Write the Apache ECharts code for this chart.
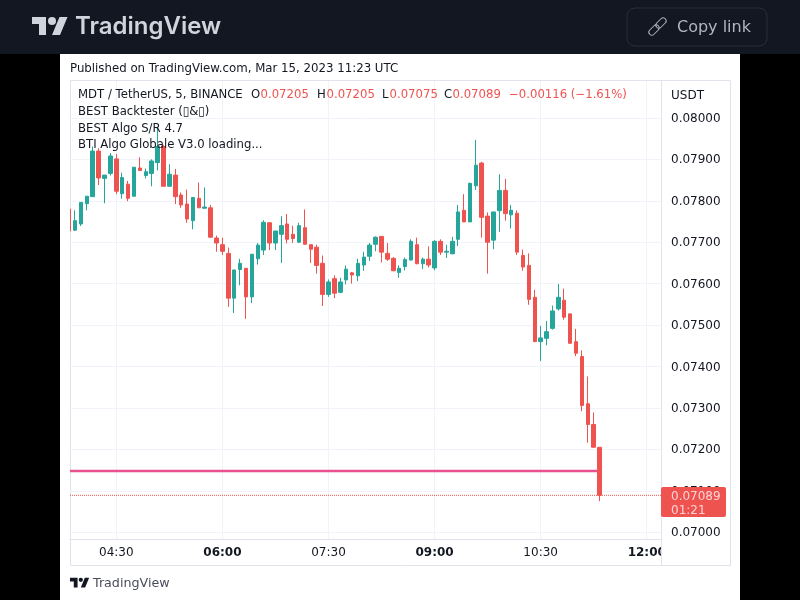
<!DOCTYPE html>
<html>
<head>
<meta charset="utf-8">
<title>MDT / TetherUS</title>
<script src="https://cdn.jsdelivr.net/npm/echarts@6/dist/echarts.min.js"></script>
<style>
html, body { margin: 0; padding: 0; background: #000; }
#main { width: 800px; height: 600px; }
</style>
</head>
<body>
<div id="main"></div>
<script>
var times = ['03:50','03:55','04:00','04:05','04:10','04:15','04:20','04:25','04:30','04:35','04:40','04:45','04:50','04:55','05:00','05:05','05:10','05:15','05:20','05:25','05:30','05:35','05:40','05:45','05:50','05:55','06:00','06:05','06:10','06:15','06:20','06:25','06:30','06:35','06:40','06:45','06:50','06:55','07:00','07:05','07:10','07:15','07:20','07:25','07:30','07:35','07:40','07:45','07:50','07:55','08:00','08:05','08:10','08:15','08:20','08:25','08:30','08:35','08:40','08:45','08:50','08:55','09:00','09:05','09:10','09:15','09:20','09:25','09:30','09:35','09:40','09:45','09:50','09:55','10:00','10:05','10:10','10:15','10:20','10:25','10:30','10:35','10:40','10:45','10:50','10:55','11:00','11:05','11:10','11:15','11:20'];
var opens = [0.07780,0.07729,0.07744,0.07793,0.07810,0.07920,0.07854,0.07866,0.07901,0.07817,0.07840,0.07811,0.07879,0.07861,0.07866,0.07892,0.07931,0.07835,0.07862,0.07814,0.07792,0.07752,0.07806,0.07782,0.07783,0.07710,0.07694,0.07673,0.07565,0.07634,0.07637,0.07568,0.07660,0.07681,0.07747,0.07698,0.07719,0.07744,0.07719,0.07700,0.07735,0.07694,0.07688,0.07649,0.07574,0.07612,0.07579,0.07609,0.07626,0.07619,0.07645,0.07666,0.07695,0.07714,0.07673,0.07661,0.07627,0.07641,0.07657,0.07694,0.07648,0.07659,0.07638,0.07702,0.07676,0.07672,0.07707,0.07777,0.07749,0.07836,0.07891,0.07763,0.07705,0.07776,0.07825,0.07766,0.07770,0.07668,0.07644,0.07567,0.07460,0.07468,0.07492,0.07539,0.07560,0.07527,0.07460,0.07424,0.07310,0.07260,0.07205];
var highs = [0.07780,0.07777,0.07796,0.07811,0.07931,0.07927,0.07862,0.07915,0.07913,0.07868,0.07848,0.07881,0.07905,0.07878,0.07900,0.07978,0.07935,0.07888,0.07877,0.07820,0.07827,0.07808,0.07844,0.07832,0.07790,0.07716,0.07711,0.07687,0.07633,0.07660,0.07637,0.07671,0.07698,0.07753,0.07747,0.07727,0.07763,0.07768,0.07740,0.07747,0.07779,0.07694,0.07694,0.07668,0.07610,0.07620,0.07614,0.07644,0.07628,0.07660,0.07677,0.07698,0.07714,0.07715,0.07698,0.07664,0.07644,0.07663,0.07707,0.07711,0.07663,0.07690,0.07705,0.07707,0.07694,0.07713,0.07790,0.07816,0.07844,0.07947,0.07894,0.07772,0.07773,0.07864,0.07853,0.07790,0.07777,0.07682,0.07673,0.07585,0.07498,0.07510,0.07547,0.07599,0.07588,0.07527,0.07491,0.07439,0.07376,0.07289,0.07205];
var lows = [0.07727,0.07727,0.07739,0.07777,0.07810,0.07838,0.07794,0.07861,0.07816,0.07805,0.07799,0.07810,0.07873,0.07854,0.07835,0.07873,0.07835,0.07835,0.07792,0.07783,0.07747,0.07731,0.07783,0.07781,0.07711,0.07677,0.07669,0.07544,0.07529,0.07596,0.07515,0.07553,0.07646,0.07669,0.07681,0.07681,0.07650,0.07697,0.07698,0.07698,0.07695,0.07650,0.07624,0.07546,0.07568,0.07565,0.07577,0.07598,0.07600,0.07606,0.07631,0.07655,0.07678,0.07651,0.07655,0.07630,0.07614,0.07632,0.07656,0.07647,0.07635,0.07639,0.07632,0.07669,0.07662,0.07671,0.07691,0.07749,0.07749,0.07826,0.07711,0.07624,0.07683,0.07725,0.07752,0.07733,0.07669,0.07631,0.07549,0.07460,0.07413,0.07451,0.07489,0.07535,0.07513,0.07456,0.07425,0.07292,0.07216,0.07205,0.07075];
var closes = [0.07727,0.07752,0.07796,0.07811,0.07920,0.07855,0.07862,0.07908,0.07823,0.07856,0.07806,0.07881,0.07873,0.07870,0.07896,0.07931,0.07835,0.07864,0.07810,0.07790,0.07756,0.07808,0.07783,0.07785,0.07712,0.07698,0.07678,0.07565,0.07633,0.07649,0.07568,0.07671,0.07693,0.07748,0.07698,0.07727,0.07740,0.07707,0.07709,0.07740,0.07695,0.07683,0.07644,0.07574,0.07604,0.07577,0.07604,0.07635,0.07621,0.07649,0.07664,0.07693,0.07712,0.07676,0.07659,0.07631,0.07637,0.07658,0.07702,0.07648,0.07659,0.07645,0.07702,0.07676,0.07678,0.07702,0.07773,0.07749,0.07842,0.07886,0.07760,0.07700,0.07773,0.07825,0.07769,0.07777,0.07676,0.07640,0.07562,0.07460,0.07469,0.07484,0.07534,0.07567,0.07519,0.07456,0.07432,0.07306,0.07260,0.07205,0.07089];
var supportLine = [[230, 0.07148], [680, 0.07148]];
var yTicks = [0.07000,0.07100,0.07200,0.07300,0.07400,0.07500,0.07600,0.07700,0.07800,0.07900,0.08000];
var xTicks = ['04:30','06:00','07:30','09:00','10:30','12:00'];
var boldTicks = ['06:00','09:00','12:00'];

var font = 'DejaVu Sans';
var textColor = '#131722';
var upColor = '#26a69a';
var downColor = '#ef5350';
var gridColor = '#f0f3fa';
var borderColor = '#e0e3eb';
var xMin = 230.7, xMax = 732.1;

function toMinutes(t) {
    var p = t.split(':');
    return Number(p[0]) * 60 + Number(p[1]);
}
function minutesToLabel(m) {
    var h = Math.floor(m / 60), n = m % 60;
    return (h < 10 ? '0' : '') + h + ':' + (n < 10 ? '0' : '') + n;
}

var candleData = times.map(function (t, i) {
    return [toMinutes(t), opens[i], closes[i], lows[i], highs[i]];
});
var xTickValues = xTicks.map(toMinutes);
var last = times.length - 1;
var lastPriceLine = [[xMin, closes[last]], [xMax, closes[last]]];

function txt(x, y, text, color, size, z, extra) {
    var style = { x: x, y: y, text: text, fill: color, font: (size || 12) + 'px "' + font + '"', align: 'left', verticalAlign: 'middle' };
    for (var k in (extra || {})) style[k] = extra[k];
    return { type: 'text', silent: true, z: z || 100, style: style };
}

// the TradingView mark, as three shapes
function logo(x, y, s, color) {
    function pts(list) {
        return list.map(function (p) { return [x + p[0] * s, y + p[1] * s]; });
    }
    return [
        { type: 'polygon', z: 100, silent: true, shape: { points: pts([[14, 22], [7, 22], [7, 11], [0, 11], [0, 4], [14, 4]]) }, style: { fill: color } },
        { type: 'polygon', z: 100, silent: true, shape: { points: pts([[28, 22], [20, 22], [27.5, 4], [35.5, 4]]) }, style: { fill: color } },
        { type: 'circle', z: 100, silent: true, shape: { cx: x + 20 * s, cy: y + 8 * s, r: 4 * s }, style: { fill: color } }
    ];
}

var graphics = [
    // page pieces
    { type: 'rect', z: -10, silent: true, shape: { x: 0, y: 0, width: 800, height: 54 }, style: { fill: '#131722' } },
    { type: 'rect', z: -10, silent: true, shape: { x: 60, y: 54, width: 680, height: 546 }, style: { fill: '#ffffff' } },
    { type: 'rect', z: -9, silent: true, shape: { x: 70.5, y: 80.5, width: 660, height: 485 }, style: { fill: '#ffffff', stroke: borderColor, lineWidth: 1 } },
    // first candle is cut by the pane edge
    { type: 'rect', z: 50, silent: true, shape: { x: 62, y: 100, width: 8, height: 430 }, style: { fill: '#ffffff' } },
    // header
    txt(75, 27, 'TradingView', '#d1d4dc', 24, 100, { font: '600 24px Inter' }),
    { type: 'rect', z: 100, silent: true, shape: { x: 627, y: 8, width: 140, height: 38, r: 8 }, style: { fill: 'transparent', stroke: '#2a2e39', lineWidth: 1 } },
    { type: 'rect', z: 100, silent: true, x: 661, y: 23, rotation: Math.PI / 4, originX: 0, originY: 0, shape: { x: -6, y: -3, width: 12, height: 6, r: 3 }, style: { fill: 'transparent', stroke: '#b2b5be', lineWidth: 1 } },
    { type: 'rect', z: 100, silent: true, x: 654, y: 30, rotation: Math.PI / 4, originX: 0, originY: 0, shape: { x: -6, y: -3, width: 12, height: 6, r: 3 }, style: { fill: 'transparent', stroke: '#b2b5be', lineWidth: 1 } },
    txt(677, 28, 'Copy link', '#b2b5be', 16),
    // top line and study titles
    txt(70, 69, 'Published on TradingView.com, Mar 15, 2023 11:23 UTC', textColor, 11.78),
    txt(78, 95.2, 'MDT / TetherUS, 5, BINANCE', textColor, 11.7),
    txt(251, 95.2, 'O', textColor, 11.7),
    txt(260.5, 95.2, opens[last].toFixed(5), downColor, 11.7),
    txt(317, 95.2, 'H', textColor, 11.7),
    txt(326.5, 95.2, highs[last].toFixed(5), downColor, 11.7),
    txt(382, 95.2, 'L', textColor, 11.7),
    txt(389.5, 95.2, lows[last].toFixed(5), downColor, 11.7),
    txt(444, 95.2, 'C', textColor, 11.7),
    txt(452.5, 95.2, closes[last].toFixed(5), downColor, 11.7),
    txt(509, 95.2, '\u22120.00116 (\u22121.61%)', downColor, 11.7),
    txt(78, 112.2, 'BEST Backtester (\u25AF&\u25AF)', textColor, 11.7),
    txt(78, 129.2, 'BEST Algo S/R 4.7', textColor, 11.7),
    txt(78, 145.2, 'BTI Algo Globale V3.0 loading...', textColor, 11.7),
    // corner below the price scale hides the cut 12:00 label
    { type: 'rect', z: 50, silent: true, shape: { x: 662, y: 540, width: 68, height: 25 }, style: { fill: '#ffffff' } },
    { type: 'line', z: 51, silent: true, shape: { x1: 661.5, y1: 81, x2: 661.5, y2: 565 }, style: { stroke: borderColor, lineWidth: 1 } },
    // price scale
    txt(671, 95.5, 'USDT', textColor, 12),
    { type: 'rect', z: 60, silent: true, shape: { x: 661, y: 487, width: 65, height: 30, r: 2 }, style: { fill: downColor } },
    txt(671, 496.5, closes[last].toFixed(5), 'rgba(255,255,255,0.75)', 12, 61),
    txt(671, 510.5, '01:21', 'rgba(255,255,255,0.75)', 12, 61),
    // footer
    txt(93, 584, 'TradingView', '#4a4e5b', 12.7)
].concat(logo(32, 13, 1, '#d1d4dc'), logo(70, 575.5, 0.54, '#131722'));

var chart = echarts.init(document.getElementById('main'));
chart.setOption({
    animation: false,
    backgroundColor: '#000000',
    textStyle: { fontFamily: font },
    grid: { left: 70, top: 81, right: 139, bottom: 61 },
    xAxis: {
        type: 'value',
        min: xMin,
        max: xMax,
        axisLine: { lineStyle: { color: borderColor } },
        axisTick: { show: false, customValues: xTickValues },
        splitLine: { show: true, customValues: xTickValues, lineStyle: { color: gridColor, width: 1 } },
        axisLabel: {
            customValues: xTickValues,
            margin: 8,
            color: textColor,
            fontSize: 12,
            fontFamily: font,
            hideOverlap: false,
            formatter: function (v) {
                var s = minutesToLabel(v);
                return boldTicks.indexOf(s) >= 0 ? '{b|' + s + '}' : s;
            },
            rich: { b: { fontWeight: 'bold', fontSize: 12, color: textColor, fontFamily: font } }
        }
    },
    yAxis: {
        type: 'value',
        position: 'right',
        min: 0.069836,
        max: 0.080891,
        axisLine: { show: false },
        axisTick: { show: false, customValues: yTicks },
        splitLine: { show: true, customValues: yTicks, lineStyle: { color: gridColor, width: 1 } },
        axisLabel: {
            customValues: yTicks,
            margin: 10,
            color: textColor,
            fontSize: 12,
            fontFamily: font,
            align: 'left',
            formatter: function (v) { return '{v|' + v.toFixed(5) + '}'; },
            rich: { v: { fontSize: 12, color: textColor, fontFamily: font, verticalAlign: 'bottom', lineHeight: 14 } }
        }
    },
    series: [
        {
            type: 'line',
            z: 1,
            data: supportLine,
            symbol: 'none',
            silent: true,
            lineStyle: { color: '#e8508e', width: 2.5 }
        },
        {
            type: 'line',
            z: 1,
            data: lastPriceLine,
            symbol: 'none',
            silent: true,
            lineStyle: { color: downColor, type: 'dotted', width: 1 }
        },
        {
            type: 'candlestick',
            z: 2,
            data: candleData,
            barWidth: 4,
            itemStyle: {
                color: upColor,
                color0: downColor,
                borderColor: upColor,
                borderColor0: downColor,
                borderWidth: 1
            }
        }
    ],
    graphic: { elements: graphics }
});
</script>
</body>
</html>
